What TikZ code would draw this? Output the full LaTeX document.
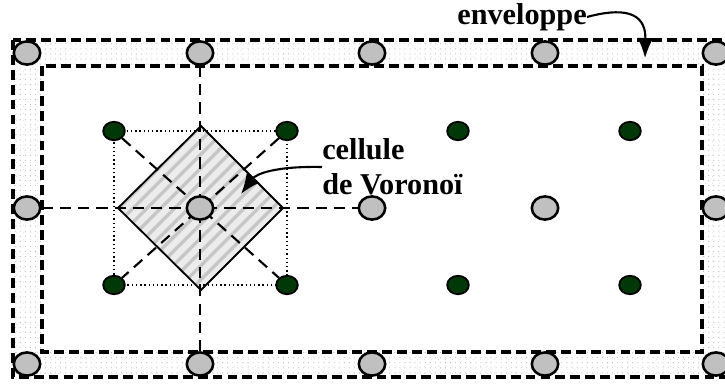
\documentclass[tikz,border=0pt]{standalone}
\usepackage{fontspec}
\setmainfont{Liberation Serif}
\usepackage{tikz}
\usetikzlibrary{arrows.meta, shapes.geometric, patterns.meta, backgrounds}
\definecolor{SiteGray}{RGB}{192,192,192}
\definecolor{SeedGreen}{RGB}{0,56,8}
\definecolor{BandGray}{RGB}{180,180,180}

\begin{document}
\begin{tikzpicture}[x=0.025cm, y=-0.025cm,
		site/.style={ellipse, draw=black, line width=1.8pt, fill=SiteGray, minimum width=0.66cm, minimum height=0.58cm, inner sep=0pt},
		seed/.style={ellipse, draw=black, line width=1.3pt, fill=SeedGreen, minimum width=0.54cm, minimum height=0.46cm, inner sep=0pt},
		env/.style={line width=2.6pt, dash pattern=on 7pt off 3.6pt},
		axe/.style={line width=1.5pt, dash pattern=on 8pt off 5pt},
		lbl/.style={font=\fontsize{21.5}{25}\selectfont\bfseries, inner sep=0pt, align=left},
		arr/.style={-{Latex[length=0.5cm, width=0.4cm]}, line width=1.5pt}]
	\useasboundingbox (0,0) rectangle (725,383);
	% sites du reseau
	\foreach \i/\x in {0/27,1/200,2/372,3/545,4/716}
		\foreach \j/\y in {0/53,1/208,2/364}
			\node[site] (g-\j-\i) at (\x,\y) {};
	% germes
	\foreach \i/\x in {0/114,1/287,2/458,3/630}
		\foreach \j/\y in {0/131,1/285}
			\node[seed] (v-\j-\i) at (\x,\y) {};

	\node[lbl] (envlbl) at (522,17) {enveloppe};
	\node[lbl, anchor=west] (celllbl) at (322,167) {cellule\\de Vorono\"i};
	\coordinate (envtip) at (645,58);
	\coordinate (celltip) at (241,194);

	\begin{scope}[on background layer]
		% bande de l'enveloppe
		\path[even odd rule, fill=gray!5, pattern={Dots[radius=0.4pt, distance=3.6pt]}, pattern color=BandGray]
			(13,40) rectangle (731,377) (42,66) rectangle (702,352);
		\path[even odd rule, pattern={Dots[radius=0.3pt, distance=5pt, xshift=1.8pt, yshift=1.8pt]}, pattern color=gray!40]
			(13,40) rectangle (731,377) (42,66) rectangle (702,352);
		\draw[env] (13,40) rectangle (731,377);
		\draw[env] (42,66) rectangle (702,352);
		% cellule de Voronoi
		\fill[gray!15] (201,126) -- (283,208) -- (201,290) -- (118,208) -- cycle;
		\fill[pattern={Lines[angle=45, distance=7pt, line width=2.4pt]}, pattern color=gray!45]
			(201,126) -- (283,208) -- (201,290) -- (118,208) -- cycle;
		\draw[line width=1.3pt] (201,126) -- (283,208) -- (201,290) -- (118,208) -- cycle;
		% axes
		\draw[axe] (g-0-1) -- (g-2-1);
		\draw[axe] (g-1-0) -- (g-1-2);
		\draw[axe] (v-0-0) -- (v-1-1);
		\draw[axe] (v-0-1) -- (v-1-0);
		\draw[dotted, line width=1pt] (v-0-0.center) -- (v-0-1.center) -- (v-1-1.center) -- (v-1-0.center) -- cycle;
	\end{scope}

	\draw[arr] (envlbl.east) .. controls (620,8) and (646,10) .. (envtip);
	\draw[arr] (celllbl.west) .. controls (275,166) and (256,174) .. (celltip);
\end{tikzpicture}
\end{document}
